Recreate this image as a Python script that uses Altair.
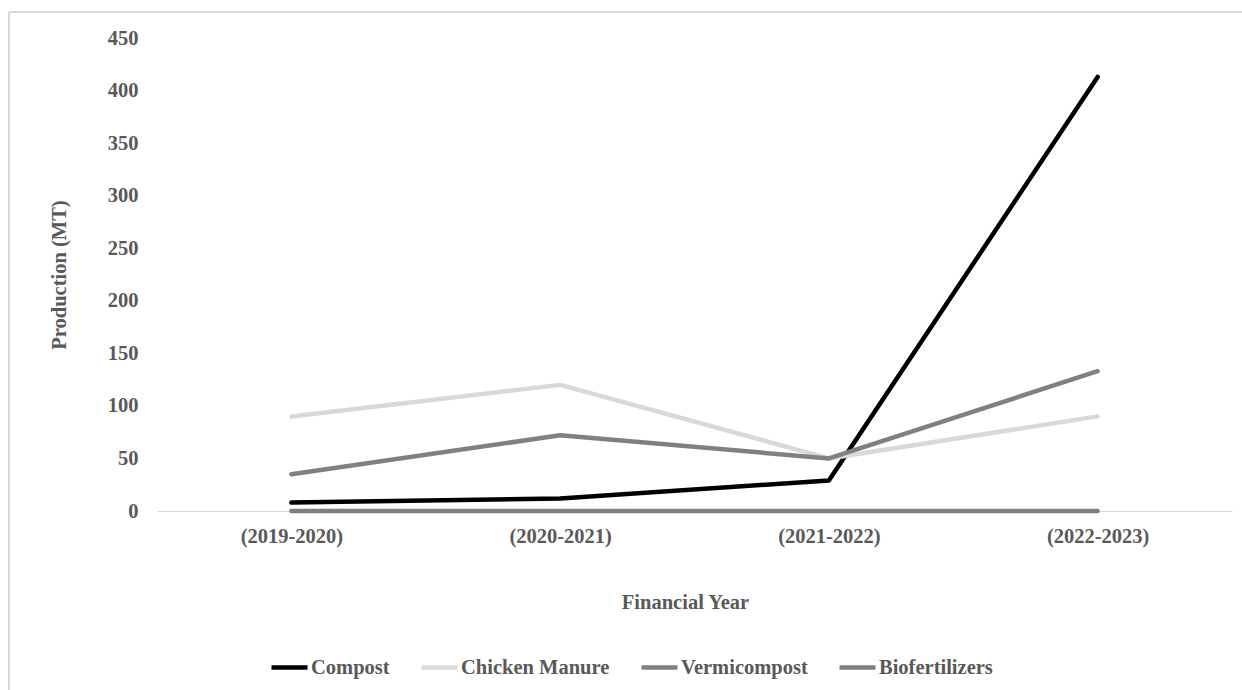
import altair as alt
import pandas as pd

# Production (MT) of organic inputs by financial year
years = ["(2019-2020)", "(2020-2021)", "(2021-2022)", "(2022-2023)"]
series = ["Compost", "Chicken Manure", "Vermicompost", "Biofertilizers"]
compost = [8, 12, 29, 413]
chicken_manure = [90, 120, 50, 90]
vermicompost = [35, 72, 50, 133]
biofertilizers = [0, 0, 0, 0]
colors = ["#000000", "#d9d9d9", "#808080", "#7f7f7f"]

values = [compost, chicken_manure, vermicompost, biofertilizers]
rows = []
for order, (name, vals) in enumerate(zip(series, values)):
    for year, v in zip(years, vals):
        rows.append({"Financial Year": year, "Series": name, "Production": v, "order": order})
df = pd.DataFrame(rows)

FONT = "Liberation Serif"
TEXT = "#595959"
FS = 20.5
W, H = 1075, 473

lines = alt.Chart(df).mark_line(strokeWidth=4.5, strokeCap="round", strokeJoin="round").encode(
    x=alt.X(
        "Financial Year:N",
        sort=years,
        scale=alt.Scale(type="point", padding=0.5),
        axis=alt.Axis(
            title="Financial Year",
            titlePadding=46,
            titleX=528,
            titleAlign="center",
            labelPadding=15,
            ticks=False,
            domainColor="#d9d9d9",
            domainWidth=1,
            labelAngle=0,
        ),
    ),
    y=alt.Y(
        "Production:Q",
        scale=alt.Scale(domain=[0, 450]),
        axis=alt.Axis(
            title="Production (MT)",
            values=list(range(0, 451, 50)),
            grid=False,
            domain=False,
            ticks=False,
            labelPadding=19,
            titlePadding=38,
        ),
    ),
    color=alt.Color(
        "Series:N",
        sort=series,
        scale=alt.Scale(domain=series, range=colors),
        legend=alt.Legend(
            title=None,
            orient="none",
            legendX=112,
            legendY=609,
            direction="horizontal",
            symbolType="stroke",
            symbolSize=1300,
            symbolStrokeWidth=4.5,
            labelOffset=1,
            columnPadding=22,
        ),
    ),
    order=alt.Order("order:Q"),
)

# Light grey frame around the chart (top and left edges)
frame_top = alt.Chart().mark_rule(color="#d9d9d9", strokeWidth=2).encode(
    x=alt.value(-148), x2=alt.value(W + 20), y=alt.value(-26)
)
frame_left = alt.Chart().mark_rule(color="#d9d9d9", strokeWidth=2).encode(
    x=alt.value(-148), y=alt.value(-26), y2=alt.value(H + 200)
)

chart = (
    alt.layer(frame_top, frame_left, lines)
    .properties(
        width=W,
        height=H,
        background="white",
        autosize=alt.AutoSizeParams(type="none"),
        padding={"left": 157, "top": 38, "right": 10, "bottom": 179},
    )
    .configure_view(stroke=None)
    .configure_axis(
        labelFont=FONT,
        titleFont=FONT,
        labelFontSize=FS,
        titleFontSize=FS,
        labelFontWeight="bold",
        titleFontWeight="bold",
        labelColor=TEXT,
        titleColor=TEXT,
    )
    .configure_legend(
        labelFont=FONT,
        labelFontSize=FS,
        labelFontWeight="bold",
        labelColor=TEXT,
    )
)

chart.save("out.html", embed_options={"renderer": "svg", "actions": False})
